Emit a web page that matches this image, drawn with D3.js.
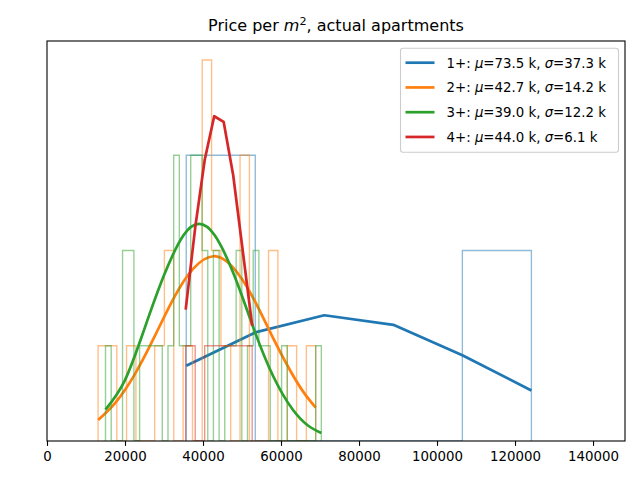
<!DOCTYPE html>
<html><head><meta charset="utf-8">
<script src="https://cdn.jsdelivr.net/npm/d3@7/dist/d3.min.js"></script>
<style>
body{margin:0;background:#fff}
text{font-family:"DejaVu Sans",sans-serif;fill:#000}
</style>
</head><body>
<svg id="chart" width="640" height="480"></svg>
<script>
// ---------- data ----------
const seriesNames = ["1+", "2+", "3+", "4+"];
const seriesMeans = ["73.5", "42.7", "39.0", "44.0"];
const seriesSigmas = ["37.3", "14.2", "12.2", "6.1"];
const seriesColors = ["#1f77b4", "#ff7f0e", "#2ca02c", "#d62728"];

// 1+ histogram (bin edges in price, counts)
const blueEdges = [35700, 53400, 71100, 88800, 106500, 124200];
const blueCounts = [3, 0, 0, 0, 2];
const blueFitY = [0.79, 1.14, 1.32, 1.22, 0.90, 0.53];

// 2+ histogram
const orangeEdges = [13100, 15500, 17900, 20400, 22800, 25200, 27600, 30100, 32500, 34900,
  37300, 39800, 42200, 44600, 47100, 49500, 51900, 54300, 56800, 59200, 61600, 64000, 66500, 68900];
const orangeCounts = [1, 1, 0, 1, 0, 0, 1, 2, 0, 1, 0, 4, 2, 1, 0, 3, 0, 0, 2, 0, 1, 0, 1];
const orangeFitX = [13100, 17500, 22500, 27500, 32500, 37500, 42700, 47500, 52500, 57500, 62500, 66000, 68900];
const orangeFitY = [0.22, 0.40, 0.70, 1.09, 1.50, 1.81, 1.94, 1.83, 1.53, 1.12, 0.73, 0.50, 0.35];

// 3+ histogram
const greenEdges = [15000, 16460, 17910, 19370, 20830, 22280, 23740, 25200, 26650, 28110,
  29560, 31020, 32480, 33930, 35390, 36850, 38300, 39760, 41220, 42670,
  44130, 45580, 47040, 48500, 49950, 51410, 52870, 54320, 55780, 57240,
  58690, 60150, 61600, 63060, 64520, 65970, 67430, 68890, 70340];
const greenCounts = [1, 0, 0, 2, 2, 0, 1, 1, 1, 1, 0, 1, 3, 1, 1, 3, 3, 2, 0, 2,
  0, 1, 1, 2, 0, 1, 2, 1, 1, 0, 0, 1, 0, 0, 0, 0, 0, 1];
const greenFitX = [15000, 20000, 25000, 30000, 35000, 39000, 43000, 48000, 53000, 58000, 63000, 67000, 70340];
const greenFitY = [0.33, 0.64, 1.18, 1.74, 2.16, 2.28, 2.16, 1.74, 1.18, 0.68, 0.33, 0.16, 0.084];

// 4+ histogram
const redEdges = [35560, 38000, 40430, 42870, 45300, 47740, 50180, 52610];
const redCounts = [1, 0, 1, 1, 1, 1, 1];
const redFitY = [1.38, 2.24, 2.95, 3.41, 3.35, 2.79, 2.00, 1.21];

const xTicks = [0, 20000, 40000, 60000, 80000, 100000, 120000, 140000];
const titleParts = ["Price per ", "m", "2", ", actual apartments"];

// ---------- layout ----------
const L = 47, R = 625, T = 41, B = 441;
const svg = d3.select("#chart");
const x = d3.scaleLinear().domain([0, 148200]).range([L, R]);
const y = d3.scaleLinear().domain([0, 4.2]).range([B, T]);

svg.append("defs").append("clipPath").attr("id", "clip")
  .append("rect").attr("x", L).attr("y", T).attr("width", R - L).attr("height", B - T);

const plot = svg.append("g").attr("clip-path", "url(#clip)");

function stepPoints(edges, counts) {
  const pts = [[edges[0], 0]];
  counts.forEach((c, i) => { pts.push([edges[i], c]); pts.push([edges[i + 1], c]); });
  pts.push([edges[edges.length - 1], 0]);
  return pts;
}
const stepLine = d3.line().x(d => x(d[0])).y(d => y(d[1]));
const polyLine = d3.line().x(d => x(d[0])).y(d => y(d[1]));
const smoothLine = d3.line().x(d => x(d[0])).y(d => y(d[1])).curve(d3.curveNatural);

const series = [
  {edges: blueEdges, counts: blueCounts, fx: blueEdges, fy: blueFitY, gen: polyLine},
  {edges: orangeEdges, counts: orangeCounts, fx: orangeFitX, fy: orangeFitY, gen: smoothLine},
  {edges: greenEdges, counts: greenCounts, fx: greenFitX, fy: greenFitY, gen: smoothLine},
  {edges: redEdges, counts: redCounts, fx: redEdges, fy: redFitY, gen: polyLine}
];

series.forEach((s, i) => {
  plot.append("path")
    .attr("d", stepLine(stepPoints(s.edges, s.counts)))
    .attr("fill", "none").attr("stroke", seriesColors[i])
    .attr("stroke-opacity", 0.5).attr("stroke-width", 1.35)
    .attr("stroke-linejoin", "miter");
  plot.append("path")
    .attr("d", s.gen(s.fx.map((v, j) => [v, s.fy[j]])))
    .attr("fill", "none").attr("stroke", seriesColors[i])
    .attr("stroke-width", 2.7).attr("stroke-linejoin", "round").attr("stroke-linecap", "butt");
});

// frame
svg.append("rect").attr("x", L).attr("y", T).attr("width", R - L).attr("height", B - T)
  .attr("fill", "none").attr("stroke", "#000").attr("stroke-width", 1.1);

// x axis
const xAxis = d3.axisBottom(x).tickValues(xTicks).tickFormat(d3.format("d")).tickSize(4.9).tickPadding(5);
const ax = svg.append("g").attr("transform", `translate(0,${B})`).call(xAxis);
ax.select(".domain").remove();
ax.selectAll(".tick line").attr("stroke", "#000").attr("stroke-width", 1.1);
ax.selectAll(".tick text").attr("font-family", "DejaVu Sans").attr("font-size", "13.33px").attr("fill", "#000")
  .attr("dy", null).attr("y", 20);

// title
const title = svg.append("text").attr("x", (L + R) / 2).attr("y", 31)
  .attr("text-anchor", "middle").attr("font-size", "16px");
title.append("tspan").text(titleParts[0]);
title.append("tspan").attr("font-style", "italic").text(titleParts[1]);
title.append("tspan").attr("font-size", "11.2px").attr("dy", -6.5).text(titleParts[2]);
title.append("tspan").attr("dy", 6.5).text(titleParts[3]);

// legend
const lg = svg.append("g");
lg.append("rect").attr("x", 400.5).attr("y", 48.3).attr("width", 218).attr("height", 104)
  .attr("rx", 2.5).attr("fill", "#fff").attr("fill-opacity", 0.8)
  .attr("stroke", "#cccccc").attr("stroke-width", 1.1);
seriesNames.forEach((n, i) => {
  const yy = 62.7 + i * 24.75;
  lg.append("line").attr("x1", 405.5).attr("x2", 434.5).attr("y1", yy).attr("y2", yy)
    .attr("stroke", seriesColors[i]).attr("stroke-width", 2.7);
  const t = lg.append("text").attr("x", 446.5).attr("y", yy + 4.8).attr("font-size", "13.33px");
  t.append("tspan").text(n + ": ");
  t.append("tspan").attr("font-style", "italic").text("μ");
  t.append("tspan").text("=" + seriesMeans[i] + " k, ");
  t.append("tspan").attr("font-style", "italic").text("σ");
  t.append("tspan").text("=" + seriesSigmas[i] + " k");
});
</script>
</body></html>
